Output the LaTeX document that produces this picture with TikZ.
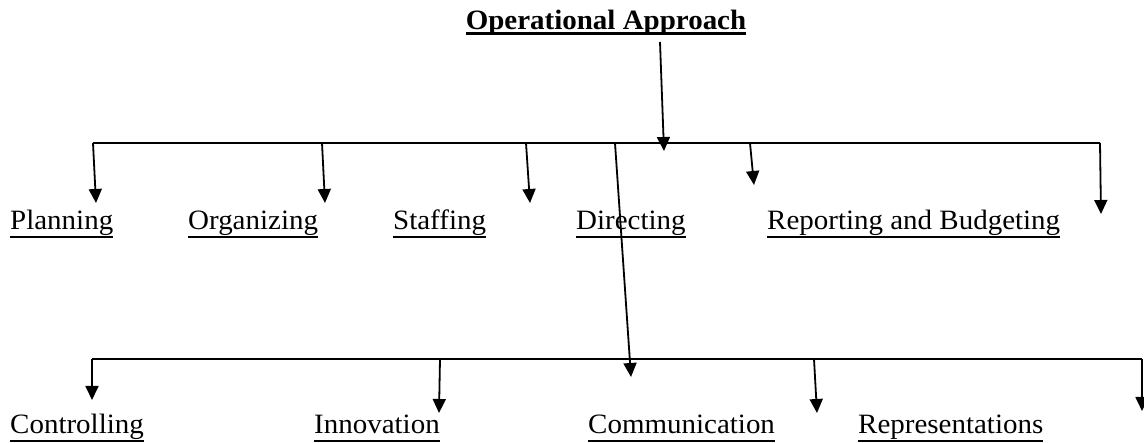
\documentclass[tikz,border=0pt]{standalone}
\usepackage{fontspec}
\setmainfont{Liberation Serif}
\usetikzlibrary{ 
  	positioning,
  	arrows.meta,
  	calc
  }
\tikzstyle{lbl}=[anchor=base west,inner sep=0pt,font=\fontsize{28}{32}\selectfont]
\tikzstyle{ttl}=[anchor=base,inner sep=0pt,font=\fontsize{28}{32}\selectfont\bfseries]
\tikzstyle{arr}=[line width=1.8pt,-{Triangle[length=14pt,width=13pt]}]
\tikzstyle{bar}=[line width=1.8pt]
\newcommand{\ulword}[1]{\scalebox{1.035}[1]{\setbox0=\hbox{#1}\rlap{\rule[-8pt]{\wd0}{1.8pt}}\box0}}
\newcommand{\ultitle}[1]{\scalebox{1.035}[1]{\setbox0=\hbox{#1}\rlap{\rule[-5pt]{\wd0}{2.6pt}}\box0}}

\begin{document}
\begin{tikzpicture}[x=1pt,y=-1pt]
\useasboundingbox (0,0) rectangle (1144,443);
\node[ttl] (title) at (606,30) {\ultitle{Operational Approach}};
% first row
\node[lbl] (plan) at (10,230) {\ulword{Planning}};
\node[lbl] (org) at (188,230) {\ulword{Organizing}};
\node[lbl] (staff) at (393,230) {\ulword{Staffing}};
\node[lbl] (dir) at (576,230) {\ulword{Directing}};
\node[lbl] (rep) at (767,230) {\ulword{Reporting and Budgeting}};
% second row
\node[lbl] (ctrl) at (10,434) {\ulword{Controlling}};
\node[lbl] (inno) at (314,434) {\ulword{Innovation}};
\node[lbl] (comm) at (588,434) {\ulword{Communication}};
\node[lbl] (repr) at (858,434) {\ulword{Representations}};
% top bar
\coordinate (ta) at (93,143);
\coordinate (tb) at (1100,143);
\coordinate (tin) at (664,151);
\draw[bar] (ta) -- (tb);
\draw[arr] ($(title.base)+(54,12)$) -- (tin);
\draw[arr] (ta) -- (96,203);
\draw[arr] (322,143) -- (325,203);
\draw[arr] (526,143) -- (530,203);
\draw[arr] (750,143) -- (754,185);
\draw[arr] (tb) -- (1101,214);
% bottom bar
\coordinate (ba) at (92,359);
\coordinate (bb) at (1142,359);
\coordinate (bin) at (631,377);
\draw[bar] (ba) -- (bb);
\draw[arr] (615,143) -- (bin);
\draw[arr] (ba) -- (92,400);
\draw[arr] (440,359) -- (439,413);
\draw[arr] (814,359) -- (817,413);
\draw[arr] (bb) -- (1142,411);
\end{tikzpicture}
\end{document}
